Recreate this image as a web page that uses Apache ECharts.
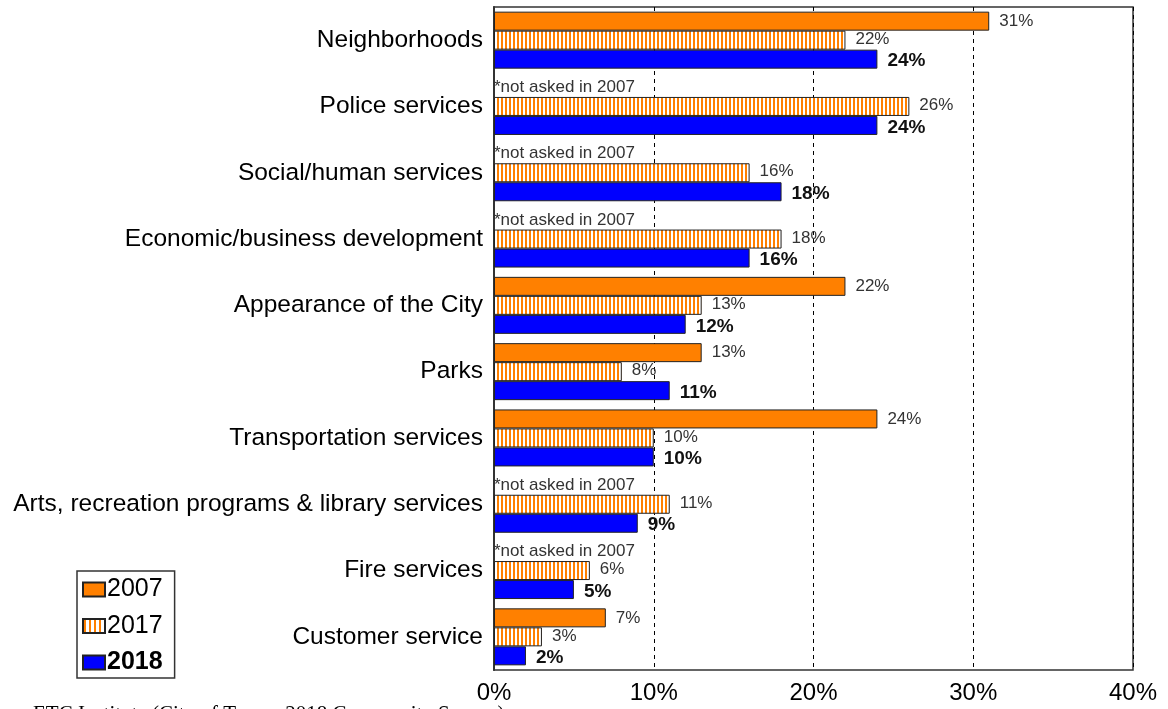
<!DOCTYPE html>
<html>
<head>
<meta charset="utf-8">
<script src="https://cdn.jsdelivr.net/npm/echarts@6/dist/echarts.min.js"></script>
<style>
  html, body { margin: 0; padding: 0; background: #fff; }
  #chart { width: 1168px; height: 709px; }
</style>
</head>
<body>
<div id="chart"></div>
<script>
// Service categories, top to bottom
const categories = [
  'Neighborhoods',
  'Police services',
  'Social/human services',
  'Economic/business development',
  'Appearance of the City',
  'Parks',
  'Transportation services',
  'Arts, recreation programs & library services',
  'Fire services',
  'Customer service'
];

// Percent of respondents; null = item not asked that year
const values2007 = [31, null, null, null, 22, 13, 24, null, null, 7];
const values2017 = [22, 26, 16, 18, 13, 8, 10, 11, 6, 3];
const values2018 = [24, 24, 18, 16, 12, 11, 10, 9, 5, 2];

const xTicks = [0, 10, 20, 30, 40];
const notAskedNote = '*not asked in 2007';
const sourceNote = 'ETC Institute (City of Tempe 2018 Community Survey)';

const FONT = '"Liberation Sans", Arial, sans-serif';
const ORANGE = '#FF8000';
const BLUE = '#0000FF';

// Vertical orange hatch used for the 2017 bars
function makeStripes(period, stripe) {
  const c = document.createElement('canvas');
  c.width = period; c.height = 4;
  const ctx = c.getContext('2d');
  ctx.fillStyle = '#ffffff';
  ctx.fillRect(0, 0, period, 4);
  ctx.fillStyle = ORANGE;
  ctx.fillRect(1, 0, stripe, 4);
  return { image: c, repeat: 'repeat' };
}
const stripes = makeStripes(4, 2);
const legendStripes = makeStripes(5, 2);

const data2007 = values2007.map(v => v === null
  ? { value: 0, itemStyle: { borderWidth: 0 },
      label: { show: true, position: 'insideLeft', distance: 1, formatter: notAskedNote,
               fontSize: 17, color: '#333', offset: [-1, 0] } }
  : v);

const chart = echarts.init(document.getElementById('chart'), null, { renderer: 'canvas' });

const barW = 19;
const baseLabel = { show: true, position: 'right', distance: 10, fontFamily: FONT };

chart.setOption({
  animation: false,
  textStyle: { fontFamily: FONT },
  grid: {
    left: 494, right: 35, top: 7, bottom: 39,
    show: true, borderColor: '#333', borderWidth: 1.5, backgroundColor: 'transparent'
  },
  xAxis: {
    type: 'value', min: 0, max: 40, interval: 10,
    axisLine: { show: false },
    axisTick: { show: false },
    axisLabel: {
      fontSize: 24, color: '#000', margin: 11,
      formatter: v => xTicks.includes(v) ? v + '%' : ''
    },
    splitLine: { show: true, lineStyle: { color: '#000', type: [4, 4], width: 1 } }
  },
  yAxis: {
    type: 'category', data: categories, inverse: true,
    axisLine: { show: true, lineStyle: { color: '#333', width: 2 } },
    axisTick: { show: false },
    axisLabel: { fontSize: 24.5, color: '#000', margin: 11 }
  },
  legend: {
    orient: 'vertical', left: 77, top: 571,
    backgroundColor: '#fff', borderColor: '#333', borderWidth: 1.5,
    padding: [6, 12, 3, 5], itemGap: 11.5,
    itemWidth: 22, itemHeight: 14, icon: 'rect',
    textStyle: { fontSize: 25, lineHeight: 25, color: '#000', padding: [0, 0, 0, -3] },
    data: [
      { name: '2007' },
      { name: '2017', itemStyle: { color: legendStripes } },
      { name: '2018', textStyle: { fontWeight: 'bold' } }
    ]
  },
  series: [
    {
      name: '2007', type: 'bar', barWidth: barW, barGap: '0%',
      data: data2007,
      itemStyle: { color: ORANGE, borderColor: '#222', borderWidth: 1 },
      label: Object.assign({}, baseLabel, {
        fontSize: 17, color: '#333', formatter: p => p.value + '%'
      })
    },
    {
      name: '2017', type: 'bar', barWidth: barW, barGap: '0%',
      data: values2017,
      itemStyle: { color: stripes, borderColor: '#222', borderWidth: 1 },
      label: Object.assign({}, baseLabel, {
        fontSize: 17, color: '#333', offset: [0, -1], formatter: p => p.value + '%'
      })
    },
    {
      name: '2018', type: 'bar', barWidth: barW, barGap: '0%',
      data: values2018,
      itemStyle: { color: BLUE, borderColor: '#222', borderWidth: 1 },
      label: Object.assign({}, baseLabel, {
        fontSize: 19, fontWeight: 'bold', color: '#111', offset: [0, 2],
        formatter: p => p.value + '%'
      })
    }
  ],
  graphic: [
    {
      type: 'text', left: 33, top: 704,
      style: { text: sourceNote, fontSize: 21, fontFamily: '"Liberation Serif", serif', fill: '#000' }
    }
  ]
});
</script>
</body>
</html>
